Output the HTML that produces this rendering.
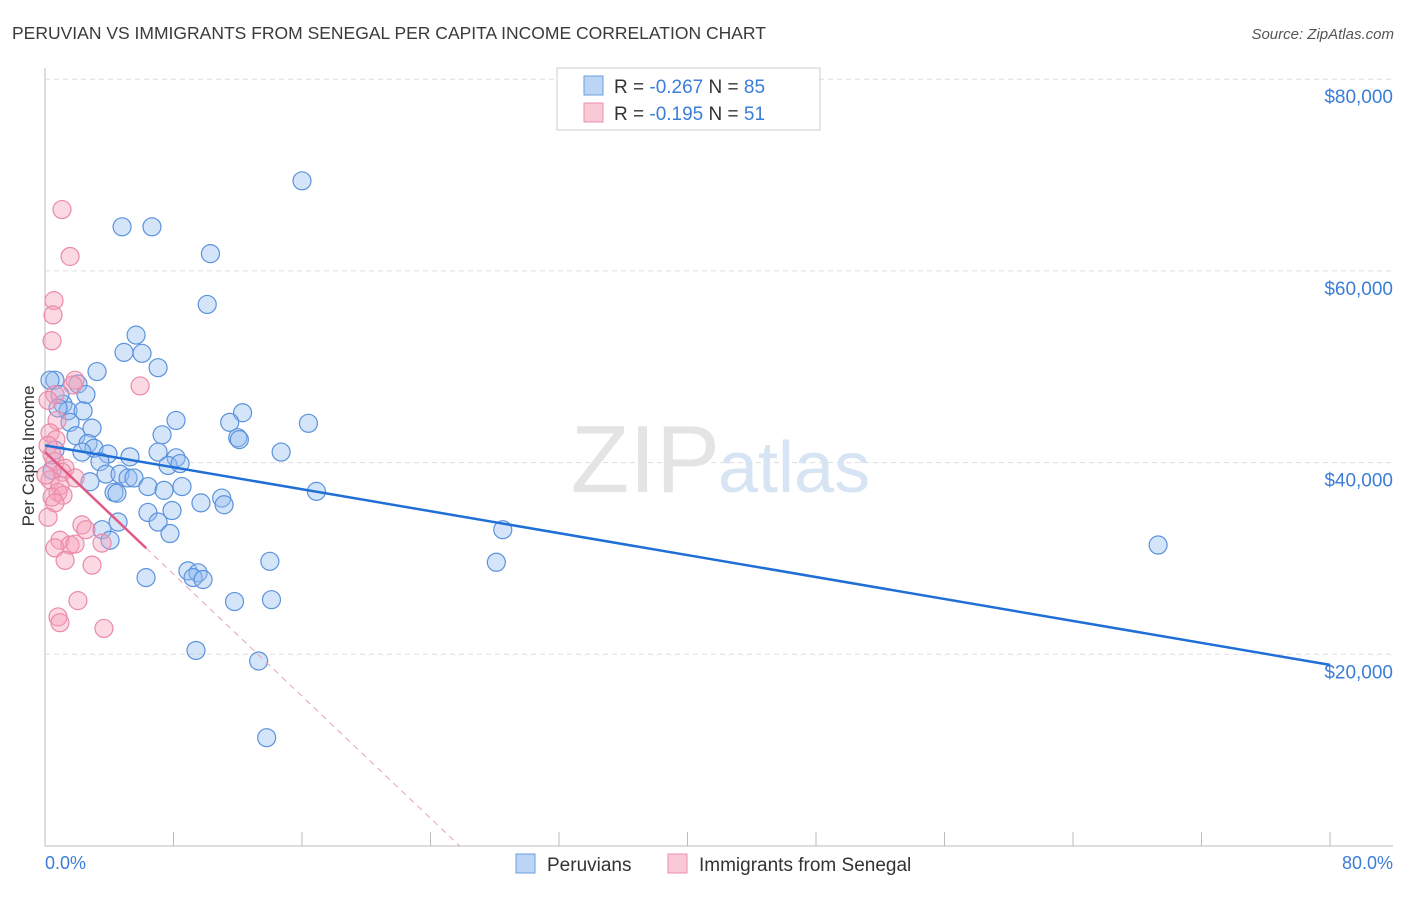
<!DOCTYPE html>
<html><head><meta charset="utf-8"><style>
body{margin:0;background:#fff;font-family:"Liberation Sans",sans-serif}
svg text{font-family:"Liberation Sans",sans-serif}
</style></head><body>
<svg id="c" width="1406" height="892">
<text x="12" y="39" font-size="17.5" fill="#3a3a3a">PERUVIAN VS IMMIGRANTS FROM SENEGAL PER CAPITA INCOME CORRELATION CHART</text>
<text x="1394" y="39" font-size="15" fill="#555" font-style="italic" text-anchor="end">Source: ZipAtlas.com</text>
<g id="grid"></g>
<text x="720" y="492" font-size="96" fill="#e4e4e4" text-anchor="end" font-family="Liberation Serif">ZIP</text>
<text x="718" y="492" font-size="72" fill="#d6e4f4">atlas</text>
<g id="pts"></g>
<g id="lines"></g>
<text transform="translate(34,456) rotate(-90)" font-size="17" fill="#333" text-anchor="middle">Per Capita Income</text>
<text x="45" y="869" font-size="18" fill="#3b7dd8">0.0%</text>
<text x="1393" y="869" font-size="18" fill="#3b7dd8" text-anchor="end">80.0%</text>
<g>
<rect x="557" y="68" width="263" height="62" fill="#fff" stroke="#ccc"/>
<rect x="584" y="76" width="19" height="19" fill="#bcd5f5" stroke="#6a9ee0"/>
<rect x="584" y="103" width="19" height="19" fill="#f9c9d6" stroke="#ec8fab"/>
<text x="614" y="93" font-size="19" fill="#333">R = <tspan fill="#3b7dd8">-0.267</tspan>   N = <tspan fill="#3b7dd8">85</tspan></text>
<text x="614" y="120" font-size="19" fill="#333">R =  <tspan fill="#3b7dd8">-0.195</tspan>   N =  <tspan fill="#3b7dd8">51</tspan></text>
</g>
<g>
<rect x="516" y="854" width="19" height="19" fill="#bcd5f5" stroke="#6a9ee0"/>
<text x="547" y="871" font-size="19" fill="#333">Peruvians</text>
<rect x="668" y="854" width="19" height="19" fill="#f9c9d6" stroke="#ec8fab"/>
<text x="699" y="871" font-size="19" fill="#333">Immigrants from Senegal</text>
</g>
</svg>
<script>
const xTicks=[0,8,16,24,32,40,48,56,64,72,80];
const yTicks=[20000,40000,60000,80000];
const yTickLabels=["$20,000","$40,000","$60,000","$80,000"];
const blueX=[16.0,4.8,6.66,10.3,10.1,5.67,4.92,6.04,7.04,3.24,2.05,0.62,2.55,1.12,1.43,2.37,1.56,12.3,8.16,11.5,16.4,2.93,7.29,1.93,12.0,12.1,2.68,3.05,14.7,2.3,3.92,5.29,7.04,8.16,3.42,7.66,8.41,3.8,4.67,5.17,5.54,6.41,7.41,8.53,16.9,4.3,4.48,9.71,11.0,11.15,2.8,6.41,7.91,7.04,4.55,3.55,7.78,4.05,28.5,69.3,14.0,28.1,8.9,9.53,9.22,9.84,6.29,14.1,11.8,9.4,13.3,13.8,0.31,0.93,0.44,0.62,0.81];
const blueY=[69400,64600,64600,61800,56500,53300,51500,51400,49900,49500,48200,48600,47100,46100,45400,45400,44200,45200,44400,44200,44100,43600,42900,42800,42600,42400,42000,41500,41100,41100,40900,40600,41100,40500,40100,39700,39900,38800,38800,38400,38400,37500,37100,37500,37000,36900,36800,35800,36300,35600,38000,34800,35000,33800,33800,33000,32600,31900,33000,31400,29700,29600,28700,28500,28000,27800,28000,25700,25500,20400,19300,11300,48600,47100,39200,41300,45700];
const pinkX=[1.06,1.56,0.56,0.5,0.44,5.92,1.87,1.74,0.62,0.19,0.75,0.31,0.68,0.19,0.62,1.25,1.06,1.87,0.31,0.93,0.81,0.44,1.12,0.62,0.19,2.3,2.55,0.93,1.56,0.62,1.87,3.55,1.25,2.93,2.05,0.81,0.93,3.67,0.44,0.06];
const pinkY=[66400,61500,56900,55400,52700,48000,48600,48100,47100,46500,44400,43100,42400,41800,40100,39400,39000,38400,38200,37600,36900,36400,36600,35800,34300,33500,33000,31900,31400,31100,31500,31600,29800,29300,25600,23900,23300,22700,40800,38700];
const blueTrend=[41800,18900];
const pinkTrend=[41100,-1592];
const pinkSolidEnd=6.3;
const X=v=>45+v/80*1285, Y=v=>846-v/20000*191.7;
const NS="http://www.w3.org/2000/svg";
function mk(p,t,a){const e=document.createElementNS(NS,t);for(const k in a)e.setAttribute(k,a[k]);p.appendChild(e);return e;}
const g=document.getElementById('grid');
let ax=mk(g,'line',{x1:45,y1:68,x2:45,y2:846,stroke:'#bbb'});


let bx=mk(g,'line',{x1:45,y1:846,x2:1393,y2:846,stroke:'#bbb'});


xTicks.forEach(t=>{const l=mk(g,'line',{x1:X(t),y1:832,x2:X(t),y2:846,stroke:'#bbb'});

});
yTicks.forEach((t,i)=>{const l=mk(g,'line',{x1:45,y1:Y(t),x2:1393,y2:Y(t),stroke:'#ddd','stroke-dasharray':'5,4'});


const tx=mk(g,'text',{x:1393,y:Y(t)+24,'font-size':19,fill:'#3b7dd8','text-anchor':'end'});tx.textContent=yTickLabels[i];

});
const p=document.getElementById('pts');
blueX.forEach((v,i)=>{const c=mk(p,'circle',{cx:X(v),cy:Y(blueY[i]),r:9,fill:'rgba(150,190,240,0.4)',stroke:'#5b92dc','stroke-width':1.2});

});
pinkX.forEach((v,i)=>{const c=mk(p,'circle',{cx:X(v),cy:Y(pinkY[i]),r:9,fill:'rgba(245,160,185,0.4)',stroke:'#eb8aa8','stroke-width':1.2});

});
const L=document.getElementById('lines');
let bl=mk(L,'line',{x1:X(0),y1:Y(blueTrend[0]),x2:X(80),y2:Y(blueTrend[1]),stroke:'#1f6fd6','stroke-width':2.5});


const xEnd=-pinkTrend[0]/pinkTrend[1];
let pd=mk(L,'line',{x1:X(pinkSolidEnd),y1:Y(pinkTrend[0]+pinkTrend[1]*pinkSolidEnd),x2:X(xEnd),y2:Y(0),stroke:'#e9a0b5','stroke-width':1,'stroke-dasharray':'6,5'});


let pl=mk(L,'line',{x1:X(0),y1:Y(pinkTrend[0]),x2:X(pinkSolidEnd),y2:Y(pinkTrend[0]+pinkTrend[1]*pinkSolidEnd),stroke:'#e05a85','stroke-width':2.5});


</script>
</body></html>
